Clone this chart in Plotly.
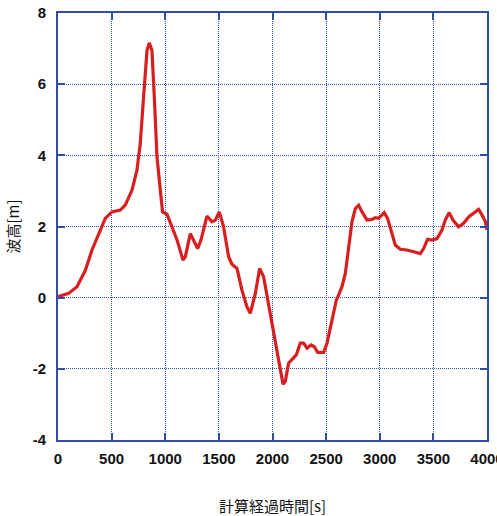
import plotly.graph_objects as go

# Elapsed computation time [s] and wave height [m]
time_s = [0, 99, 177, 255, 317, 379, 441, 503, 581, 627, 690, 736, 767, 798, 830, 851,
          876, 898, 923, 954, 975, 1016, 1063, 1110, 1165, 1187, 1234, 1265, 1302, 1333,
          1389, 1436, 1467, 1504, 1544, 1591, 1622, 1669, 1715, 1762, 1793, 1840, 1880,
          1917, 1964, 2011, 2057, 2098, 2119, 2150, 2182, 2222, 2259, 2290, 2322, 2359,
          2390, 2421, 2477, 2508, 2555, 2595, 2616, 2648, 2679, 2710, 2741, 2772, 2803,
          2835, 2881, 2928, 2959, 2989, 3042, 3073, 3105, 3145, 3192, 3254, 3316, 3378,
          3409, 3446, 3487, 3534, 3580, 3611, 3648, 3683, 3735, 3782, 3829, 3882, 3922,
          3954, 3985, 4000]
wave_m = [0.03, 0.12, 0.31, 0.77, 1.34, 1.80, 2.23, 2.41, 2.46, 2.60, 3.02, 3.58, 4.33,
          5.64, 6.95, 7.16, 6.95, 5.64, 3.96, 3.02, 2.41, 2.35, 1.99, 1.62, 1.06, 1.15,
          1.80, 1.62, 1.38, 1.62, 2.29, 2.13, 2.18, 2.41, 1.99, 1.15, 0.94, 0.82, 0.21,
          -0.26, -0.44, 0.12, 0.82, 0.59, -0.16, -0.91, -1.75, -2.43, -2.36, -1.84, -1.75,
          -1.61, -1.28, -1.28, -1.42, -1.33, -1.38, -1.54, -1.54, -1.28, -0.63, -0.07,
          0.07, 0.31, 0.68, 1.34, 2.13, 2.50, 2.60, 2.41, 2.18, 2.20, 2.25, 2.23, 2.39,
          2.23, 1.90, 1.48, 1.36, 1.34, 1.29, 1.24, 1.38, 1.64, 1.62, 1.66, 1.90, 2.18,
          2.39, 2.18, 1.99, 2.09, 2.27, 2.39, 2.48, 2.32, 2.13, 1.90]

x_ticks = [0, 500, 1000, 1500, 2000, 2500, 3000, 3500, 4000]
y_ticks = [-4, -2, 0, 2, 4, 6, 8]

frame_color = "#2f4fa6"
grid_color = "#2e4fd6"
tick_font = dict(family="Liberation Sans Narrow, Liberation Sans, sans-serif",
                 size=15, color="#111111", weight=700)
title_font = dict(family="Noto Sans CJK JP, sans-serif", size=15, color="#111111")

fig = go.Figure(go.Scatter(
    x=time_s, y=wave_m, mode="lines",
    line=dict(color="#d81e1e", width=3.2),
))

axis_common = dict(
    showline=True, linecolor=frame_color, linewidth=2, mirror="allticks",
    ticks="inside", ticklen=7, tickwidth=1.5, tickcolor=frame_color,
    showgrid=True, gridcolor=grid_color, gridwidth=1.2, griddash="1px,1px",
    zeroline=False, tickfont=tick_font, ticklabeloverflow="allow",
    automargin=False,
)

fig.update_xaxes(range=[0, 4000], tickvals=x_ticks, ticktext=[str(v) for v in x_ticks],
                 ticklabelstandoff=4,
                 title=dict(text="計算経過時間[s]", font=title_font, standoff=36),
                 **axis_common)
fig.update_yaxes(range=[-4, 8], tickvals=y_ticks, ticktext=[str(v) for v in y_ticks],
                 ticklabelstandoff=7,
                 title=dict(text="波高[m]", font=title_font, standoff=9),
                 **axis_common)

fig.update_layout(
    width=497, height=516,
    margin=dict(l=58, r=10, t=13, b=76, autoexpand=False),
    paper_bgcolor="white", plot_bgcolor="white",
    showlegend=False,
)

fig.write_html("out.html")
